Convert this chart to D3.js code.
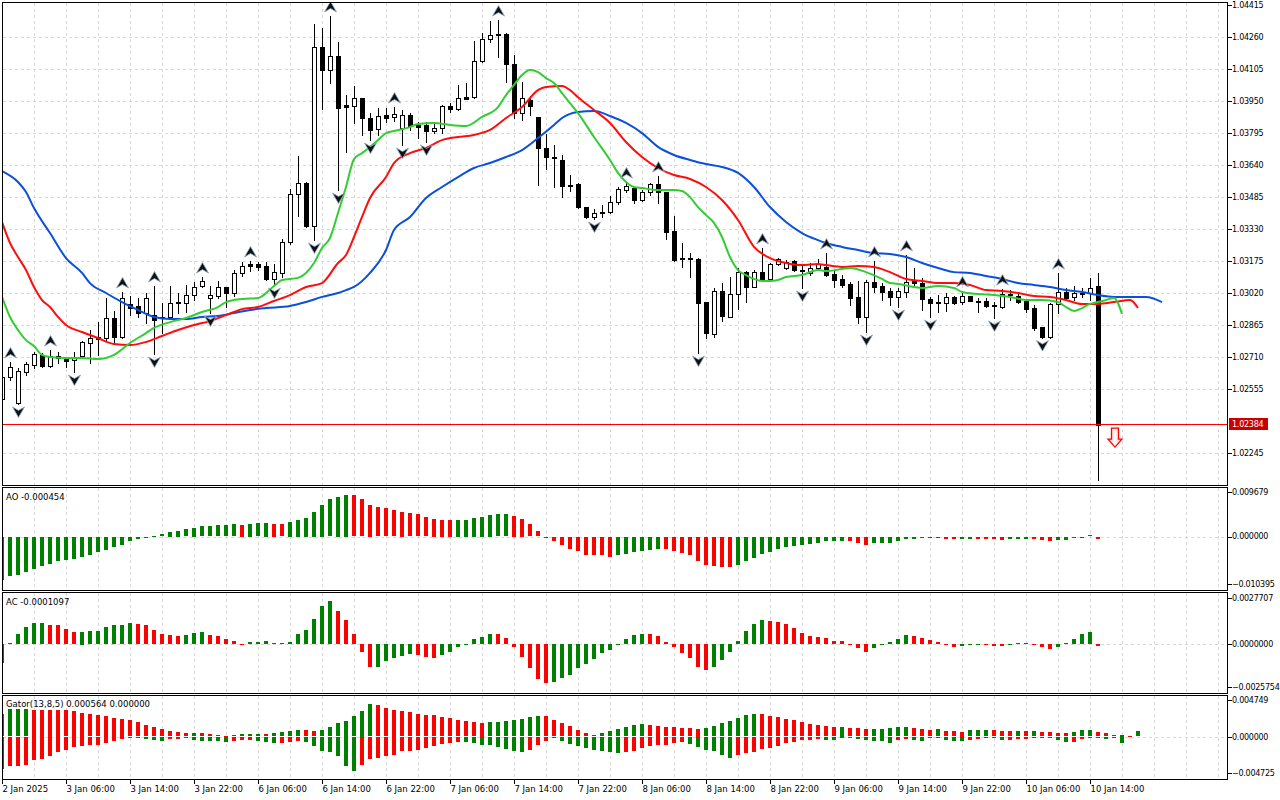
<!DOCTYPE html>
<html>
<head>
<meta charset="utf-8">
<script src="https://cdn.jsdelivr.net/npm/d3@7"></script>
<style>
  body { margin: 0; background: #fff; }
  svg { display: block; }
  text { font-family: "DejaVu Sans", sans-serif; font-size: 8.5px; fill: #000; }
  text.axis { font-size: 8px; letter-spacing: -0.25px; }
</style>
</head>
<body>
<svg id="chart" width="1280" height="800"></svg>
<script>
// EURUSD H1, 2 Jan 22:00 .. 10 Jan 15:00 (bar index 0..137)
const open = [1.02508,1.02614,1.02488,1.02638,1.02672,1.02721,1.02668,1.02716,1.02701,1.02697,1.02716,1.02779,1.02808,1.02803,1.02900,1.02808,1.02968,1.02958,1.02924,1.02914,1.02905,1.02905,1.02977,1.02972,1.03011,1.03055,1.02997,1.03006,1.03050,1.03021,1.03118,1.03161,1.03161,1.03152,1.03089,1.03118,1.03268,1.03500,1.03553,1.03345,1.04211,1.04100,1.04168,1.03931,1.03926,1.03965,1.03868,1.03815,1.03882,1.03873,1.03820,1.03882,1.03834,1.03834,1.03805,1.03820,1.03926,1.03911,1.03969,1.03969,1.04144,1.04250,1.04274,1.04274,1.04129,1.03892,1.03955,1.03873,1.03723,1.03679,1.03665,1.03544,1.03548,1.03437,1.03389,1.03413,1.03413,1.03461,1.03519,1.03529,1.03471,1.03510,1.03548,1.03510,1.03321,1.03190,1.03190,1.03185,1.02977,1.02822,1.03031,1.02905,1.03016,1.03122,1.03050,1.03122,1.03089,1.03161,1.03142,1.03176,1.03132,1.03118,1.03142,1.03147,1.03113,1.03089,1.03065,1.03002,1.02905,1.03074,1.03055,1.03031,1.03002,1.03026,1.03079,1.03069,1.02992,1.02977,1.02972,1.03002,1.02977,1.03006,1.02982,1.02982,1.02963,1.02953,1.03016,1.03006,1.02982,1.02948,1.02856,1.02808,1.02968,1.03026,1.03002,1.03021,1.03021,1.03055];
const high = [1.02624,1.02687,1.02658,1.02687,1.02735,1.02730,1.02745,1.02735,1.02711,1.02735,1.02789,1.02842,1.02880,1.02997,1.02934,1.03026,1.03006,1.02997,1.03021,1.03055,1.02972,1.03055,1.03021,1.03060,1.03074,1.03098,1.03055,1.03079,1.03052,1.03132,1.03171,1.03176,1.03171,1.03171,1.03161,1.03282,1.03524,1.03684,1.03558,1.04323,1.04303,1.04362,1.04236,1.03979,1.04023,1.03967,1.03892,1.03916,1.03916,1.03921,1.03907,1.03892,1.03848,1.03848,1.03844,1.03930,1.03940,1.04028,1.04037,1.04241,1.04279,1.04337,1.04342,1.04279,1.04173,1.04042,1.03974,1.03875,1.03790,1.03737,1.03689,1.03592,1.03553,1.03439,1.03427,1.03447,1.03490,1.03534,1.03558,1.03534,1.03519,1.03553,1.03587,1.03512,1.03394,1.03263,1.03214,1.03192,1.02979,1.03045,1.03069,1.03098,1.03142,1.03127,1.03132,1.03239,1.03166,1.03190,1.03181,1.03181,1.03161,1.03166,1.03185,1.03214,1.03132,1.03108,1.03074,1.03079,1.03084,1.03176,1.03069,1.03045,1.03045,1.03205,1.03142,1.03094,1.03002,1.03011,1.03021,1.03006,1.03031,1.03008,1.02997,1.02997,1.02977,1.03040,1.03035,1.03026,1.02987,1.02963,1.02858,1.02971,1.03118,1.03045,1.03055,1.03045,1.03094,1.03118];
const low = [1.02498,1.02600,1.02484,1.02624,1.02658,1.02663,1.02663,1.02682,1.02663,1.02638,1.02711,1.02682,1.02721,1.02793,1.02784,1.02803,1.02914,1.02905,1.02876,1.02726,1.02827,1.02895,1.02924,1.02929,1.02987,1.03050,1.02924,1.02997,1.02953,1.03006,1.03103,1.03127,1.03132,1.03084,1.03060,1.03098,1.03258,1.03394,1.03340,1.03277,1.03911,1.04037,1.03519,1.03703,1.03844,1.03786,1.03761,1.03786,1.03848,1.03853,1.03737,1.03810,1.03771,1.03752,1.03795,1.03795,1.03897,1.03907,1.03960,1.03965,1.04139,1.04236,1.04163,1.04042,1.03868,1.03858,1.03882,1.03544,1.03621,1.03534,1.03485,1.03515,1.03434,1.03386,1.03379,1.03389,1.03408,1.03452,1.03510,1.03457,1.03466,1.03495,1.03457,1.03282,1.03176,1.03147,1.03098,1.02730,1.02803,1.02808,1.02885,1.02903,1.02943,1.02977,1.03048,1.03082,1.03084,1.03156,1.03137,1.03127,1.03045,1.03108,1.03132,1.03103,1.03050,1.03050,1.02963,1.02876,1.02832,1.03026,1.02987,1.02963,1.02953,1.03002,1.03060,1.02939,1.02905,1.02929,1.02934,1.02970,1.02970,1.02980,1.02929,1.02953,1.02900,1.02948,1.02987,1.02972,1.02929,1.02842,1.02805,1.02803,1.02924,1.02987,1.02987,1.03002,1.02987,1.02116];
const close = [1.02614,1.02663,1.02643,1.02677,1.02726,1.02668,1.02716,1.02706,1.02692,1.02711,1.02784,1.02803,1.02798,1.02900,1.02808,1.02997,1.02948,1.02924,1.02997,1.02890,1.02900,1.02972,1.02972,1.03011,1.03050,1.03079,1.03011,1.03050,1.03021,1.03118,1.03152,1.03152,1.03147,1.03089,1.03122,1.03268,1.03500,1.03553,1.03345,1.04211,1.04100,1.04168,1.03916,1.03921,1.03965,1.03868,1.03810,1.03878,1.03868,1.03887,1.03882,1.03829,1.03824,1.03805,1.03820,1.03926,1.03911,1.03965,1.03960,1.04144,1.04250,1.04270,1.04270,1.04129,1.03892,1.03965,1.03926,1.03723,1.03679,1.03674,1.03539,1.03539,1.03437,1.03389,1.03408,1.03408,1.03461,1.03524,1.03539,1.03471,1.03510,1.03548,1.03510,1.03316,1.03181,1.03185,1.03185,1.02972,1.02827,1.03031,1.02910,1.03016,1.03122,1.03050,1.03122,1.03084,1.03161,1.03185,1.03171,1.03132,1.03127,1.03142,1.03161,1.03108,1.03084,1.03060,1.02997,1.02905,1.03074,1.03050,1.03026,1.03002,1.03031,1.03074,1.03069,1.02992,1.02972,1.02972,1.03002,1.02972,1.03006,1.02982,1.02977,1.02958,1.02958,1.03016,1.03011,1.02977,1.02943,1.02852,1.02808,1.02968,1.03026,1.02997,1.03021,1.03016,1.03045,1.02384];

// Alligator lines, read as [bar, price] (jaw/teeth/lips run ahead of the last bar)
const jaw = [[0,1.03611],[2,1.03558],[3,1.03510],[4,1.03432],[6,1.03311],[8,1.03190],[10,1.03118],[11,1.03069],[13,1.03021],[15,1.02977],[17,1.02939],[19,1.02905],[21,1.02895],[23,1.02895],[25,1.02905],[27,1.02910],[29,1.02924],[31,1.02939],[33,1.02948],[36,1.02958],[38,1.02977],[40,1.03002],[42,1.03021],[43,1.03035],[44,1.03050],[46,1.03118],[48,1.03229],[49,1.03326],[51,1.03389],[53,1.03481],[55,1.03534],[57,1.03582],[59,1.03626],[61,1.03650],[63,1.03679],[65,1.03713],[67,1.03771],[69,1.03834],[70,1.03868],[72,1.03897],[74,1.03902],[76,1.03878],[78,1.03844],[80,1.03795],[82,1.03728],[84,1.03689],[86,1.03665],[88,1.03645],[90,1.03631],[92,1.03602],[94,1.03534],[96,1.03437],[98,1.03365],[100,1.03311],[102,1.03277],[103,1.03263],[105,1.03244],[107,1.03229],[109,1.03214],[111,1.03210],[113,1.03195],[115,1.03166],[117,1.03142],[119,1.03122],[121,1.03118],[123,1.03103],[125,1.03089],[127,1.03069],[129,1.03060],[131,1.03050],[133,1.03035],[135,1.03026],[137,1.03011],[139,1.03002],[141,1.03002],[143,1.03002],[145,1.02977]];
const teeth = [[0,1.03365],[1,1.03263],[2,1.03195],[3,1.03132],[4,1.03050],[5,1.02987],[6,1.02953],[7,1.02905],[8,1.02866],[10,1.02832],[12,1.02803],[14,1.02774],[16,1.02769],[18,1.02784],[20,1.02813],[22,1.02842],[24,1.02866],[26,1.02885],[28,1.02914],[30,1.02943],[32,1.02953],[34,1.02982],[36,1.03011],[38,1.03050],[40,1.03069],[42,1.03166],[43,1.03205],[44,1.03292],[45,1.03389],[46,1.03481],[48,1.03582],[49,1.03650],[51,1.03698],[53,1.03723],[55,1.03761],[57,1.03776],[59,1.03786],[61,1.03810],[63,1.03868],[65,1.03921],[67,1.04003],[68,1.04018],[70,1.04023],[71,1.04003],[72,1.03969],[74,1.03907],[76,1.03844],[78,1.03752],[80,1.03679],[82,1.03626],[84,1.03592],[86,1.03573],[88,1.03534],[90,1.03471],[92,1.03374],[94,1.03244],[96,1.03190],[98,1.03166],[100,1.03156],[102,1.03161],[103,1.03156],[105,1.03147],[107,1.03152],[109,1.03147],[111,1.03122],[113,1.03089],[115,1.03079],[117,1.03069],[119,1.03069],[121,1.03060],[123,1.03035],[125,1.03031],[127,1.03021],[129,1.03006],[131,1.03002],[133,1.02987],[135,1.02968],[137,1.02968],[139,1.02977],[141,1.02987],[142,1.02948]];
const lips = [[0,1.03002],[1,1.02905],[2,1.02842],[3,1.02793],[4,1.02764],[5,1.02721],[6,1.02711],[8,1.02706],[10,1.02706],[12,1.02701],[14,1.02721],[16,1.02779],[18,1.02827],[19,1.02852],[21,1.02880],[23,1.02900],[25,1.02929],[27,1.02953],[28,1.02977],[30,1.02992],[32,1.02997],[34,1.03055],[35,1.03084],[37,1.03094],[38,1.03118],[39,1.03166],[40,1.03239],[41,1.03287],[42,1.03408],[43,1.03534],[44,1.03669],[45,1.03698],[46,1.03728],[47,1.03761],[48,1.03795],[49,1.03805],[51,1.03824],[52,1.03839],[54,1.03844],[56,1.03834],[58,1.03829],[60,1.03873],[62,1.03921],[63,1.03979],[64,1.04028],[65,1.04076],[66,1.04100],[67,1.04090],[68,1.04061],[69,1.04037],[70,1.03989],[71,1.03940],[72,1.03892],[74,1.03776],[76,1.03665],[77,1.03602],[78,1.03558],[79,1.03534],[80,1.03529],[82,1.03519],[84,1.03519],[85,1.03515],[86,1.03485],[87,1.03437],[88,1.03398],[89,1.03360],[90,1.03292],[91,1.03195],[92,1.03132],[93,1.03108],[94,1.03089],[95,1.03079],[96,1.03079],[97,1.03084],[98,1.03098],[100,1.03108],[102,1.03132],[103,1.03127],[105,1.03137],[106,1.03142],[108,1.03122],[110,1.03089],[111,1.03069],[112,1.03065],[114,1.03050],[115,1.03045],[117,1.03055],[119,1.03045],[120,1.03026],[122,1.03016],[124,1.03011],[126,1.03002],[128,1.02987],[130,1.02987],[132,1.02977],[133,1.02953],[134,1.02934],[135,1.02948],[136,1.02968],[137,1.02977],[138,1.02987],[139,1.02997],[140,1.02919]];

// Fractal bars
const fractalUp = [1,6,15,19,25,31,41,49,62,78,82,95,103,109,113,120,125,132];
const fractalDown = [2,9,19,26,34,39,42,46,50,53,74,87,100,108,112,116,124,130];

// Awesome Oscillator, Accelerator Oscillator (bars 0..137)
const ao = [-0.00931,-0.00858,-0.00822,-0.00771,-0.00691,-0.00626,-0.00582,-0.00516,-0.00495,-0.00473,-0.00436,-0.00385,-0.00335,-0.00276,-0.00211,-0.00167,-0.00080,-0.00036,-0.00015,0.00015,0.00051,0.00102,0.00124,0.00160,0.00189,0.00225,0.00226,0.00247,0.00250,0.00269,0.00255,0.00284,0.00291,0.00298,0.00284,0.00269,0.00320,0.00364,0.00407,0.00538,0.00691,0.00815,0.00866,0.00909,0.00902,0.00815,0.00691,0.00640,0.00618,0.00575,0.00545,0.00509,0.00487,0.00422,0.00385,0.00364,0.00362,0.00366,0.00368,0.00407,0.00429,0.00473,0.00487,0.00489,0.00451,0.00385,0.00269,0.00116,-0.00003,-0.00095,-0.00182,-0.00269,-0.00313,-0.00385,-0.00400,-0.00402,-0.00429,-0.00400,-0.00378,-0.00335,-0.00313,-0.00291,-0.00269,-0.00271,-0.00313,-0.00356,-0.00400,-0.00516,-0.00604,-0.00640,-0.00662,-0.00664,-0.00618,-0.00531,-0.00465,-0.00378,-0.00335,-0.00269,-0.00208,-0.00189,-0.00167,-0.00145,-0.00124,-0.00095,-0.00093,-0.00091,-0.00098,-0.00138,-0.00167,-0.00138,-0.00136,-0.00134,-0.00095,-0.00044,-0.00036,-0.00022,-0.00015,-0.00012,-0.00044,-0.00046,-0.00040,-0.00036,-0.00044,-0.00046,-0.00051,-0.00065,-0.00051,-0.00044,-0.00040,-0.00051,-0.00065,-0.00095,-0.00073,-0.00058,-0.00022,-0.00007,0.00029,-0.000454];
const ac = [-0.00113,0.00004,0.00062,0.00103,0.00125,0.00126,0.00113,0.00112,0.00091,0.00074,0.00075,0.00076,0.00080,0.00103,0.00115,0.00116,0.00127,0.00121,0.00113,0.00086,0.00062,0.00056,0.00050,0.00056,0.00068,0.00074,0.00056,0.00050,0.00032,0.00020,-0.00002,0.00012,0.00013,0.00020,0.00008,0.00004,0.00014,0.00062,0.00086,0.00151,0.00229,0.00259,0.00199,0.00145,0.00062,-0.00050,-0.00137,-0.00136,-0.00103,-0.00085,-0.00074,-0.00062,-0.00068,-0.00080,-0.00086,-0.00068,-0.00050,-0.00018,-0.00002,0.00032,0.00044,0.00062,0.00061,0.00038,-0.00020,-0.00080,-0.00145,-0.00211,-0.00235,-0.00229,-0.00205,-0.00187,-0.00145,-0.00121,-0.00091,-0.00056,-0.00038,-0.00008,0.00032,0.00056,0.00062,0.00061,0.00050,0.00014,-0.00020,-0.00056,-0.00086,-0.00139,-0.00157,-0.00139,-0.00097,-0.00050,0.00020,0.00080,0.00121,0.00145,0.00139,0.00133,0.00120,0.00095,0.00066,0.00048,0.00042,0.00036,0.00018,0.00017,-0.00004,-0.00022,-0.00046,-0.00022,-0.00004,0.00012,0.00030,0.00054,0.00048,0.00036,0.00024,0.00012,-0.00006,-0.00018,-0.00010,-0.00002,-0.00001,-0.00002,-0.00010,-0.00012,-0.00002,0.00004,0.00006,-0.00002,-0.00016,-0.00030,-0.00018,0.00006,0.00030,0.00060,0.00072,-0.0001097];

// Gator oscillator: upper |jaw-teeth| (bars 0..142), lower |teeth-lips| (bars 0..140)
const gatorUp = [0.00289,0.00353,0.00354,0.00355,0.00352,0.00350,0.00348,0.00346,0.00340,0.00332,0.00306,0.00289,0.00276,0.00267,0.00246,0.00233,0.00211,0.00185,0.00146,0.00121,0.00095,0.00069,0.00056,0.00043,0.00044,0.00043,0.00030,0.00017,0.00004,0.00017,0.00030,0.00031,0.00032,0.00030,0.00043,0.00056,0.00069,0.00082,0.00081,0.00069,0.00082,0.00121,0.00172,0.00202,0.00263,0.00332,0.00418,0.00405,0.00366,0.00348,0.00327,0.00314,0.00289,0.00276,0.00275,0.00250,0.00237,0.00211,0.00198,0.00185,0.00184,0.00186,0.00187,0.00198,0.00211,0.00224,0.00250,0.00263,0.00262,0.00211,0.00172,0.00134,0.00082,0.00043,0.00017,0.00043,0.00069,0.00095,0.00121,0.00146,0.00159,0.00146,0.00145,0.00121,0.00120,0.00108,0.00107,0.00106,0.00108,0.00134,0.00172,0.00198,0.00237,0.00276,0.00289,0.00288,0.00263,0.00250,0.00224,0.00211,0.00185,0.00159,0.00146,0.00134,0.00121,0.00123,0.00108,0.00107,0.00095,0.00096,0.00097,0.00108,0.00121,0.00122,0.00108,0.00095,0.00082,0.00095,0.00069,0.00068,0.00067,0.00082,0.00083,0.00084,0.00082,0.00069,0.00068,0.00070,0.00069,0.00071,0.00056,0.00055,0.00043,0.00042,0.00056,0.00082,0.00083,0.000564,0.00043,0.00017,0.00020,0.00016,0.00069];
const gatorDown = [0.00409,0.00379,0.00378,0.00358,0.00302,0.00289,0.00250,0.00198,0.00172,0.00129,0.00116,0.00108,0.00107,0.00082,0.00056,0.00030,0.00013,0.00017,0.00022,0.00043,0.00056,0.00026,0.00025,0.00017,0.00043,0.00056,0.00057,0.00058,0.00069,0.00056,0.00043,0.00042,0.00056,0.00069,0.00082,0.00081,0.00069,0.00056,0.00069,0.00121,0.00185,0.00194,0.00250,0.00379,0.00444,0.00366,0.00289,0.00276,0.00250,0.00230,0.00177,0.00176,0.00164,0.00138,0.00112,0.00086,0.00073,0.00060,0.00062,0.00073,0.00099,0.00100,0.00125,0.00151,0.00177,0.00190,0.00164,0.00099,0.00047,0.00013,0.00047,0.00086,0.00112,0.00138,0.00164,0.00177,0.00190,0.00202,0.00190,0.00177,0.00138,0.00112,0.00099,0.00098,0.00073,0.00060,0.00086,0.00125,0.00164,0.00177,0.00228,0.00267,0.00228,0.00202,0.00190,0.00151,0.00138,0.00112,0.00073,0.00060,0.00034,0.00033,0.00022,0.00034,0.00035,0.00013,0.00005,0.00022,0.00034,0.00047,0.00048,0.00073,0.00034,0.00022,0.00034,0.00047,0.00004,0.00003,0.00034,0.00047,0.00048,0.00034,0.00022,0.00013,0.00005,0.00034,0.00033,0.00032,0.00022,0.00004,0.00010,0.00013,0.00034,0.00060,0.00059,0.00022,0.00005,0.00000,0.00020,0.00013,0.00073];

// Axis ticks
const priceTicks = [1.04415,1.04260,1.04105,1.03950,1.03795,1.03640,1.03485,1.03330,1.03175,1.03020,1.02865,1.02710,1.02555,1.02245];
const aoTicks = [0.009679, 0, -0.010395];
const acTicks = [0.0027707, 0, -0.0025754];
const gatorTicks = [0.004749, 0, -0.004725];
const timeTickBars = [0,8,16,24,32,40,48,56,64,72,80,88,96,104,112,120,128,136];
const timeLabels = ["2 Jan 2025","3 Jan 06:00","3 Jan 14:00","3 Jan 22:00","6 Jan 06:00","6 Jan 14:00","6 Jan 22:00","7 Jan 06:00","7 Jan 14:00","7 Jan 22:00","8 Jan 06:00","8 Jan 14:00","8 Jan 22:00","9 Jan 06:00","9 Jan 14:00","9 Jan 22:00","10 Jan 06:00","10 Jan 14:00"];

const lastPrice = 1.02384;
const sellArrow = { bar: 139, price: 1.02367 };
const aoTitle = "AO -0.000454";
const acTitle = "AC -0.0001097";
const gatorTitle = "Gator(13,8,5) 0.000564 0.000000";

// ---------------------------------------------------------------
const svg = d3.select("#chart");
svg.append("rect").attr("width", 1280).attr("height", 800).attr("fill", "#fff");

const left = 2.5, right = 1227.5;
const x = d3.scaleLinear().domain([0, 1]).range([2, 10]); // 8 px per bar

const panes = {
  main:  { top: 2.5,   bottom: 485.5 },
  ao:    { top: 487.5, bottom: 590.5 },
  ac:    { top: 592.5, bottom: 693.5 },
  gator: { top: 695.5, bottom: 779.5 }
};

const y = d3.scaleLinear().domain([1.02245, 1.04415]).range([453.3, 5]);
const yAO = d3.scaleLinear().domain([-0.010395, 0.009679]).range([584.3, 492.3]);
const yAC = d3.scaleLinear().domain([-0.0025754, 0.0027707]).range([687.3, 597.7]);
const yG = d3.scaleLinear().domain([-0.004725, 0.004749]).range([773.3, 700]);

const crisp = (v) => Math.round(v) + 0.5;
const GREEN = "#008000", RED = "#ff0000", GRID = "#d8d8d8";

const defs = svg.append("defs");
Object.entries(panes).forEach(([k, p]) => {
  defs.append("clipPath").attr("id", "clip-" + k)
    .append("rect").attr("x", 3).attr("y", p.top + 0.5)
    .attr("width", right - 3.5).attr("height", p.bottom - p.top - 1);
});

// grid
const gridBars = d3.range(4, 153, 4);
Object.values(panes).forEach((p) => {
  svg.append("g").selectAll("line").data(gridBars).join("line")
    .attr("x1", (b) => crisp(x(b))).attr("x2", (b) => crisp(x(b)))
    .attr("y1", p.top).attr("y2", p.bottom)
    .attr("stroke", GRID).attr("stroke-dasharray", "3,3").attr("shape-rendering", "crispEdges");
});
svg.append("g").selectAll("line").data(priceTicks.slice(1)).join("line")
  .attr("x1", left).attr("x2", right)
  .attr("y1", (d) => crisp(y(d))).attr("y2", (d) => crisp(y(d)))
  .attr("stroke", GRID).attr("stroke-dasharray", "3,3").attr("shape-rendering", "crispEdges");
[yAO, yAC, yG].forEach((s) => {
  svg.append("line").attr("x1", left).attr("x2", right)
    .attr("y1", crisp(s(0))).attr("y2", crisp(s(0)))
    .attr("stroke", GRID).attr("stroke-dasharray", "3,3").attr("shape-rendering", "crispEdges");
});

// candles
const main = svg.append("g").attr("clip-path", "url(#clip-main)");
const bars = close.map((c, i) => ({ i, o: open[i], h: high[i], l: low[i], c }));

main.append("g").selectAll("line").data(bars).join("line")
  .attr("x1", (d) => Math.round(x(d.i)) + 0.5).attr("x2", (d) => Math.round(x(d.i)) + 0.5)
  .attr("y1", (d) => Math.round(y(d.h))).attr("y2", (d) => Math.round(y(d.l)) + 1)
  .attr("stroke", "#000").attr("shape-rendering", "crispEdges");

main.append("g").selectAll("rect").data(bars).join("rect")
  .attr("x", (d) => Math.round(x(d.i)) - 1.5)
  .attr("width", 4)
  .attr("y", (d) => Math.round(y(Math.max(d.o, d.c))) + 0.5)
  .attr("height", (d) => Math.max(0.01, Math.round(y(Math.min(d.o, d.c))) - Math.round(y(Math.max(d.o, d.c)))))
  .attr("fill", (d) => (d.c >= d.o ? "#fff" : "#000"))
  .attr("stroke", "#000").attr("shape-rendering", "crispEdges");

// alligator
const line = d3.line().x((d) => x(d[0])).y((d) => y(d[1])).curve(d3.curveMonotoneX);
[[jaw, "#0a50dc"], [teeth, "#ff0d0d"], [lips, "#32cd32"]].forEach(([data, col]) => {
  main.append("path").datum(data).attr("d", line)
    .attr("fill", "none").attr("stroke", col).attr("stroke-width", 2);
});

// fractals
const upShape = "M0,-5.5L6,5L0,1.5L-6,5Z";
const downShape = "M0,5.5L6,-5L0,-1.5L-6,-5Z";
main.append("g").selectAll("path").data(fractalUp).join("path")
  .attr("d", upShape)
  .attr("transform", (b) => `translate(${x(b) + 0.5},${y(high[b]) - 9})`)
  .attr("fill", "#111").attr("stroke", "#8fa9c8").attr("stroke-width", 0.8);
main.append("g").selectAll("path").data(fractalDown).join("path")
  .attr("d", downShape)
  .attr("transform", (b) => `translate(${x(b) + 0.5},${y(low[b]) + 8})`)
  .attr("fill", "#111").attr("stroke", "#8fa9c8").attr("stroke-width", 0.8);

// sell arrow object
{
  const cx = x(sellArrow.bar) + 1, ty = y(sellArrow.price);
  const grad = defs.append("linearGradient").attr("id", "sellFill").attr("x1", 0).attr("x2", 1);
  grad.append("stop").attr("offset", "0%").attr("stop-color", "#ffb0b0");
  grad.append("stop").attr("offset", "50%").attr("stop-color", "#ffffff");
  grad.append("stop").attr("offset", "100%").attr("stop-color", "#ffb0b0");
  main.append("path")
    .attr("d", `M${cx - 3.5},${ty}L${cx + 3.5},${ty}L${cx + 3.5},${ty + 11}L${cx + 7},${ty + 11}L${cx},${ty + 19}L${cx - 7},${ty + 11}L${cx - 3.5},${ty + 11}Z`)
    .attr("fill", "url(#sellFill)").attr("stroke", "#ff0000").attr("stroke-width", 1.3);
}

// histograms
function histogram(pane, values, scale, firstUp, sign) {
  const g = svg.append("g").attr("clip-path", `url(#clip-${pane})`);
  let up = firstUp;
  const data = values.map((v, i) => {
    if (i > 0) {
      if (v > values[i - 1]) up = true;
      else if (v < values[i - 1]) up = false;
    }
    return { i, v: v * sign, up };
  });
  const z = scale(0);
  g.selectAll("rect").data(data).join("rect")
    .attr("x", (d) => Math.round(x(d.i)) - 2)
    .attr("width", 4)
    .attr("y", (d) => Math.round(Math.min(z, scale(d.v))))
    .attr("height", (d) => Math.max(1, Math.round(Math.abs(scale(d.v) - z))))
    .attr("fill", (d) => (d.up ? GREEN : RED))
    .attr("shape-rendering", "crispEdges");
}
histogram("ao", ao, yAO, false, 1);
histogram("ac", ac, yAC, true, 1);
histogram("gator", gatorUp, yG, true, 1);
histogram("gator", gatorDown, yG, true, -1);

// frames
Object.values(panes).forEach((p) => {
  svg.append("rect").attr("x", left).attr("y", p.top)
    .attr("width", right - left).attr("height", p.bottom - p.top)
    .attr("fill", "none").attr("stroke", "#000").attr("shape-rendering", "crispEdges");
});

// last price line across the price pane
svg.append("rect")
  .attr("x", 3).attr("width", right - 3.5)
  .attr("y", Math.floor(y(lastPrice))).attr("height", 1)
  .attr("fill", "#ff0000").attr("shape-rendering", "crispEdges");

// right price axis
const axisG = svg.append("g");
function rightTicks(values, scale, fmt) {
  values.forEach((v) => {
    const yy = scale(v);
    axisG.append("line").attr("x1", right).attr("x2", right + 4)
      .attr("y1", crisp(yy)).attr("y2", crisp(yy))
      .attr("stroke", "#000").attr("shape-rendering", "crispEdges");
    axisG.append("text").attr("class", "axis").attr("x", 1232).attr("y", yy).attr("dy", "0.35em").text(fmt(v));
  });
}
rightTicks(priceTicks, y, d3.format(".5f"));
rightTicks(aoTicks, yAO, d3.format(".6f"));
rightTicks(acTicks, yAC, d3.format(".7f"));
rightTicks(gatorTicks, yG, d3.format(".6f"));

// last price tag
axisG.append("rect").attr("x", 1229).attr("y", Math.floor(y(lastPrice)) - 6)
  .attr("width", 39).attr("height", 12).attr("fill", "#c80000");
axisG.append("text").attr("class", "axis").attr("x", 1232).attr("y", Math.floor(y(lastPrice)) + 0.5).attr("dy", "0.35em")
  .style("fill", "#fff").text(d3.format(".5f")(lastPrice));

// time axis
timeTickBars.forEach((b, k) => {
  const xx = crisp(x(b));
  axisG.append("line").attr("x1", xx).attr("x2", xx)
    .attr("y1", panes.gator.bottom).attr("y2", panes.gator.bottom + 4)
    .attr("stroke", "#000").attr("shape-rendering", "crispEdges");
  axisG.append("text").attr("x", x(b) + 0.5).attr("y", 792).text(timeLabels[k]);
});

// indicator titles
svg.append("text").attr("x", 6).attr("y", 500).text(aoTitle);
svg.append("text").attr("x", 6).attr("y", 605).text(acTitle);
svg.append("text").attr("x", 6).attr("y", 707).text(gatorTitle);
</script>
</body>
</html>
